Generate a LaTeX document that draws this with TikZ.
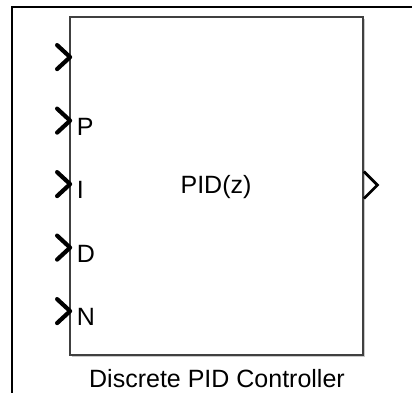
\documentclass[tikz,border=0pt]{standalone}
\usepackage{fontspec}
\setmainfont{Liberation Sans}
\usetikzlibrary{shadows,calc}
\begin{document}
\begin{tikzpicture}[x=1pt,y=-1pt,
  frameline/.style={line width=1.9pt,black},
  blockbox/.style={draw=black!75,line width=1.8pt,fill=white,inner sep=0pt,
    minimum width=293pt,minimum height=338pt,
    drop shadow={shadow xshift=1.8pt,shadow yshift=-1.8pt,fill=black!35,opacity=0.6}},
  inport/.style={line width=4.2pt,black,line cap=round,line join=round},
  outport/.style={line width=2.7pt,black,line join=miter},
  txt/.style={inner sep=0pt,font=\fontsize{25}{29}\selectfont},
  portlbl/.style={txt,anchor=base west}]
\useasboundingbox (0,0) rectangle (412,392);
\fill[white] (0,0) rectangle (412,392);
% surrounding frame (only its left and top edges fall inside the page)
\coordinate (fbl) at (12,393);
\coordinate (ftl) at (12,7);
\coordinate (ftr) at (413,7);
\draw[frameline] (fbl) -- (ftl) -- (ftr);
% the controller block
\node[blockbox] (blk) at (216.5,186) {};
\node[txt,anchor=base] (title) at (216,193) {PID(z)};
\node[txt,anchor=base] (caption) at (217,387) {Discrete PID Controller};
% input ports
\foreach \k/\lbl in {0/,1/P,2/I,3/D,4/N}{
  \coordinate (in\k) at ($(blk.north west)+(1,41+63.5*\k)$);
  \draw[inport] ($(in\k)+(-13,-12)$) -- (in\k) -- ($(in\k)+(-13,12)$);
  \node[portlbl] (lbl\k) at ($(in\k)+(6.5,14.5)$) {\lbl};
}
% output port
\coordinate (out) at ($(blk.east)+(13.5,-1)$);
\draw[outport] ($(out)+(-13.5,-13.5)$) -- (out) -- ($(out)+(-13.5,13.5)$);
\end{tikzpicture}
\end{document}
